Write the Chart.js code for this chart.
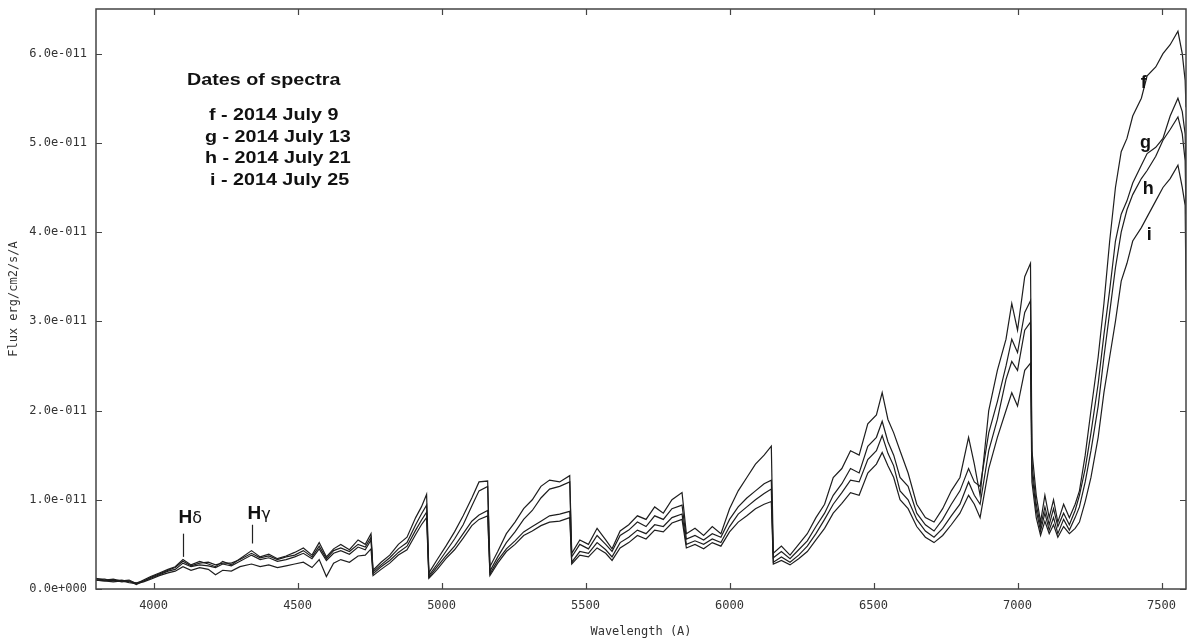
<!DOCTYPE html>
<html>
<head>
<meta charset="utf-8">
<script src="https://cdn.jsdelivr.net/npm/chart.js@4.4.1/dist/chart.umd.min.js"></script>
<style>
  html, body { margin: 0; padding: 0; background: #fff; }
  #wrap { width: 1187px; height: 641px; }
</style>
</head>
<body>
<div id="wrap"><canvas id="spectra"></canvas></div>
<script>
// ---- data (flux in units of 1e-11 erg/cm2/s/A) ----
const wavelength = [
  3800, 3830, 3860, 3890, 3915, 3940, 3965, 3990, 4020, 4050,
  4075, 4102, 4130, 4160, 4190, 4215, 4240, 4270, 4300, 4340,
  4370, 4400, 4430, 4460, 4490, 4520, 4550, 4575, 4600, 4625,
  4650, 4680, 4710, 4735, 4755, 4762, 4790, 4820, 4850, 4880,
  4910, 4930, 4948, 4956, 4985, 5015, 5045, 5075, 5105, 5130,
  5160, 5168, 5195, 5225, 5255, 5285, 5315, 5345, 5375, 5410,
  5445, 5452, 5480, 5510, 5540, 5570, 5592, 5620, 5650, 5680,
  5710, 5740, 5770, 5800, 5835, 5850, 5880, 5910, 5940, 5970,
  6000, 6030, 6060, 6090, 6120, 6145, 6152, 6180, 6210, 6240,
  6270, 6300, 6330, 6360, 6390, 6420, 6450, 6480, 6510, 6530,
  6550, 6570, 6592, 6620, 6650, 6680, 6710, 6740, 6770, 6800,
  6830, 6850, 6870, 6900, 6930, 6960, 6980, 7000, 7025, 7045,
  7050, 7065, 7080, 7095, 7110, 7125, 7140, 7160, 7180, 7200,
  7215, 7235, 7255, 7280, 7300, 7320, 7340, 7360, 7380, 7400,
  7430, 7450, 7480, 7505, 7530, 7557, 7572, 7582, 7585
];

const fluxF = [
  .12, .10, .11, .09, .10, .06, .10, .14, .18, .22,
  .25, .33, .27, .31, .28, .25, .31, .27, .34, .43,
  .36, .39, .34, .37, .41, .46, .38, .52, .36, .45,
  .50, .44, .55, .50, .62, .21, .30, .38, .50, .58,
  .80, .92, 1.06, .18, .33, .48, .64, .82, 1.02, 1.20,
  1.21, .25, .42, .62, .75, .90, 1.00, 1.15, 1.22, 1.20,
  1.27, .40, .55, .50, .68, .55, .45, .65, .72, .82,
  .78, .92, .85, 1.00, 1.08, .62, .68, .60, .70, .62,
  .90, 1.10, 1.25, 1.40, 1.50, 1.60, .40, .48, .38, .50,
  .62, .80, .95, 1.25, 1.35, 1.55, 1.50, 1.85, 1.95, 2.20,
  1.90, 1.75, 1.55, 1.30, .95, .80, .75, .90, 1.10, 1.25,
  1.70, 1.40, 1.05, 2.00, 2.45, 2.80, 3.20, 2.90, 3.50, 3.65,
  1.55, 1.05, .75, 1.05, .80, 1.00, .75, .95, .80, .95,
  1.10, 1.50, 2.00, 2.60, 3.20, 3.90, 4.50, 4.90, 5.05, 5.30,
  5.50, 5.75, 5.85, 6.00, 6.10, 6.25, 6.00, 5.70, 5.40
];

const fluxG = [
  .11, .11, .09, .10, .08, .07, .09, .13, .17, .21,
  .24, .31, .26, .29, .30, .27, .29, .29, .33, .40,
  .35, .37, .33, .36, .38, .43, .36, .48, .34, .43,
  .46, .42, .50, .47, .58, .19, .27, .35, .45, .52,
  .72, .84, .94, .15, .28, .42, .56, .72, .93, 1.10,
  1.15, .20, .36, .52, .64, .78, .88, 1.02, 1.12, 1.15,
  1.20, .36, .50, .45, .60, .50, .42, .60, .66, .75,
  .70, .82, .78, .90, .94, .56, .60, .55, .62, .58,
  .78, .92, 1.02, 1.10, 1.18, 1.22, .35, .42, .34, .44,
  .54, .70, .85, 1.05, 1.18, 1.35, 1.30, 1.60, 1.70, 1.88,
  1.65, 1.50, 1.25, 1.15, .85, .72, .65, .78, .95, 1.10,
  1.35, 1.20, 1.15, 1.75, 2.10, 2.50, 2.80, 2.65, 3.10, 3.23,
  1.40, .95, .70, .92, .72, .90, .70, .85, .72, .88,
  1.05, 1.35, 1.75, 2.30, 2.85, 3.35, 3.90, 4.20, 4.35, 4.55,
  4.75, 4.88, 4.95, 5.05, 5.30, 5.50, 5.35, 5.10, 4.60
];

const fluxH = [
  .10, .09, .10, .08, .09, .05, .09, .12, .16, .20,
  .22, .29, .25, .27, .26, .24, .28, .26, .31, .38,
  .33, .35, .31, .33, .36, .40, .34, .45, .32, .40,
  .43, .39, .47, .44, .55, .17, .25, .32, .41, .48,
  .66, .77, .86, .13, .25, .37, .48, .62, .76, .83,
  .88, .17, .32, .45, .54, .64, .70, .76, .82, .84,
  .87, .30, .42, .40, .52, .44, .36, .52, .58, .66,
  .62, .72, .70, .80, .84, .50, .54, .50, .56, .52,
  .70, .84, .92, 1.00, 1.07, 1.12, .30, .36, .30, .38,
  .48, .62, .78, .95, 1.08, 1.22, 1.20, 1.45, 1.55, 1.72,
  1.52, 1.38, 1.10, 1.00, .78, .65, .58, .68, .82, .95,
  1.20, 1.05, .95, 1.55, 1.90, 2.35, 2.55, 2.45, 2.90, 2.99,
  1.30, .88, .65, .85, .66, .80, .62, .78, .66, .80,
  .92, 1.20, 1.55, 2.05, 2.60, 3.10, 3.60, 4.00, 4.25, 4.42,
  4.60, 4.69, 4.85, 5.03, 5.15, 5.29, 5.10, 4.80, 4.20
];

const fluxI = [
  .10, .09, .08, .09, .07, .06, .08, .11, .15, .18,
  .20, .25, .21, .24, .22, .16, .21, .20, .25, .28,
  .25, .27, .24, .26, .28, .30, .24, .33, .14, .29,
  .33, .30, .37, .38, .45, .15, .22, .29, .38, .44,
  .61, .72, .80, .12, .22, .34, .44, .57, .71, .78,
  .82, .15, .29, .42, .50, .60, .65, .71, .75, .76,
  .80, .28, .38, .36, .46, .40, .32, .46, .52, .60,
  .56, .66, .64, .74, .78, .46, .50, .45, .52, .48,
  .64, .75, .82, .90, .95, .98, .28, .32, .27, .34,
  .42, .55, .68, .85, .96, 1.08, 1.05, 1.30, 1.40, 1.53,
  1.38, 1.25, 1.00, .90, .70, .58, .52, .60, .72, .85,
  1.05, .95, .80, 1.35, 1.70, 2.00, 2.20, 2.05, 2.45, 2.53,
  1.20, .80, .60, .76, .62, .72, .58, .70, .62, .68,
  .75, .98, 1.25, 1.70, 2.20, 2.60, 3.00, 3.45, 3.65, 3.90,
  4.05, 4.17, 4.35, 4.50, 4.60, 4.75, 4.50, 4.30, 3.35
];

const seriesNames = ["f", "g", "h", "i"];
const xTicks = [4000, 4500, 5000, 5500, 6000, 6500, 7000, 7500];
const yTicks = [0, 1, 2, 3, 4, 5, 6];

const legendTitle = "Dates of spectra";
const legendLines = ["f - 2014 July 9", "g - 2014 July 13", "h - 2014 July 21", "i - 2014 July 25"];

// curve letter labels near the red end (wavelength, flux at baseline)
const curveLabelX = [7428, 7425, 7435, 7449];
const curveLabelY = [5.62, 4.94, 4.43, 3.91];

// Balmer line markers: wavelength, marker bottom/top flux, label baseline flux
const lineMarks = [
  { name: "H", greek: "δ", lambda: 4102, lo: 0.36, hi: 0.62, text: 0.735 },
  { name: "H", greek: "γ", lambda: 4340, lo: 0.51, hi: 0.72, text: 0.79 },
];

// ---- chart ----
const allFlux = [fluxF, fluxG, fluxH, fluxI];
const datasets = allFlux.map((arr, k) => ({
  label: seriesNames[k],
  data: arr.map((v, j) => ({ x: wavelength[j], y: v })),
  borderColor: "#1e1e1e",
  borderWidth: 1.2,
  pointRadius: 0,
  tension: 0,
  fill: false,
}));

function stretchText(ctx, txt, x, y, sx) {
  ctx.save();
  ctx.translate(x, y);
  ctx.scale(sx, 1);
  ctx.fillText(txt, 0, 0);
  ctx.restore();
}

const framePlugin = {
  id: "frame",
  afterDraw(chart) {
    const { ctx, chartArea: a, scales } = chart;
    const xs = scales.x, ys = scales.y;
    ctx.save();
    // box
    ctx.strokeStyle = "#444";
    ctx.lineWidth = 1.5;
    ctx.strokeRect(a.left, a.top, a.right - a.left, a.bottom - a.top);
    // inward ticks
    ctx.lineWidth = 1.2;
    ctx.beginPath();
    xTicks.forEach(v => {
      const px = Math.round(xs.getPixelForValue(v)) + 0.5;
      ctx.moveTo(px, a.bottom); ctx.lineTo(px, a.bottom - 6);
      ctx.moveTo(px, a.top); ctx.lineTo(px, a.top + 6);
    });
    yTicks.forEach(v => {
      const py = Math.round(ys.getPixelForValue(v)) + 0.5;
      ctx.moveTo(a.left, py); ctx.lineTo(a.left + 6, py);
      ctx.moveTo(a.right, py); ctx.lineTo(a.right - 6, py);
    });
    ctx.stroke();

    // legend block
    ctx.fillStyle = "#111";
    ctx.textBaseline = "alphabetic";
    ctx.textAlign = "left";
    ctx.font = "bold 17px 'Liberation Sans', Arial, sans-serif";
    stretchText(ctx, legendTitle, 187, 85, 1.16);
    const lx = [209, 205, 205, 210];
    const ly = [120, 141.5, 163, 185];
    legendLines.forEach((t, k) => stretchText(ctx, t, lx[k], ly[k], 1.16));

    // curve letters
    ctx.font = "bold 18px 'Liberation Sans', Arial, sans-serif";
    seriesNames.forEach((n, k) => {
      ctx.fillText(n, xs.getPixelForValue(curveLabelX[k]), ys.getPixelForValue(curveLabelY[k]));
    });

    // Balmer markers
    lineMarks.forEach(m => {
      const px = Math.round(xs.getPixelForValue(m.lambda)) + 0.5;
      ctx.strokeStyle = "#222";
      ctx.lineWidth = 1.2;
      ctx.beginPath();
      ctx.moveTo(px, ys.getPixelForValue(m.lo));
      ctx.lineTo(px, ys.getPixelForValue(m.hi));
      ctx.stroke();
      const ty = ys.getPixelForValue(m.text);
      ctx.font = "bold 19px 'Liberation Sans', Arial, sans-serif";
      ctx.fillText(m.name, px - 5, ty);
      const w = ctx.measureText(m.name).width;
      ctx.font = "16px 'DejaVu Sans', sans-serif";
      ctx.fillText(m.greek, px - 5 + w, ty);
    });
    ctx.restore();
  },
};

const monoFont = { family: "'DejaVu Sans Mono', monospace", size: 12 };

new Chart(document.getElementById("spectra"), {
  type: "line",
  data: { datasets },
  options: {
    responsive: true,
    maintainAspectRatio: false,
    animation: false,
    layout: { padding: { top: 9, right: 1, left: 0, bottom: 2 } },
    plugins: { legend: { display: false }, tooltip: { enabled: false } },
    scales: {
      x: {
        type: "linear",
        min: 3800,
        max: 7585,
        afterBuildTicks: s => { s.ticks = xTicks.map(v => ({ value: v })); },
        afterFit: s => { s.height = 50; s.paddingLeft = 0; s.paddingRight = 0; },
        grid: { display: false, drawTicks: false },
        border: { display: false },
        ticks: { font: monoFont, color: "#333", padding: 10, maxRotation: 0, autoSkip: false, callback: v => String(v) },
        title: { display: true, text: "Wavelength (A)", font: monoFont, color: "#333", padding: 0 },
      },
      y: {
        min: 0,
        max: 6.5,
        afterBuildTicks: s => { s.ticks = yTicks.map(v => ({ value: v })); },
        afterFit: s => { s.width = 96; s.paddingTop = 0; s.paddingBottom = 0; },
        grid: { display: false, drawTicks: false },
        border: { display: false },
        ticks: {
          font: monoFont,
          color: "#333",
          padding: 9,
          autoSkip: false,
          callback: v => (v === 0 ? "0.0e+000" : v.toFixed(1) + "e-011"),
        },
        title: { display: true, text: "Flux erg/cm2/s/A", font: monoFont, color: "#333", padding: { top: 7, bottom: 0 } },
      },
    },
  },
  plugins: [framePlugin],
});
</script>
</body>
</html>
